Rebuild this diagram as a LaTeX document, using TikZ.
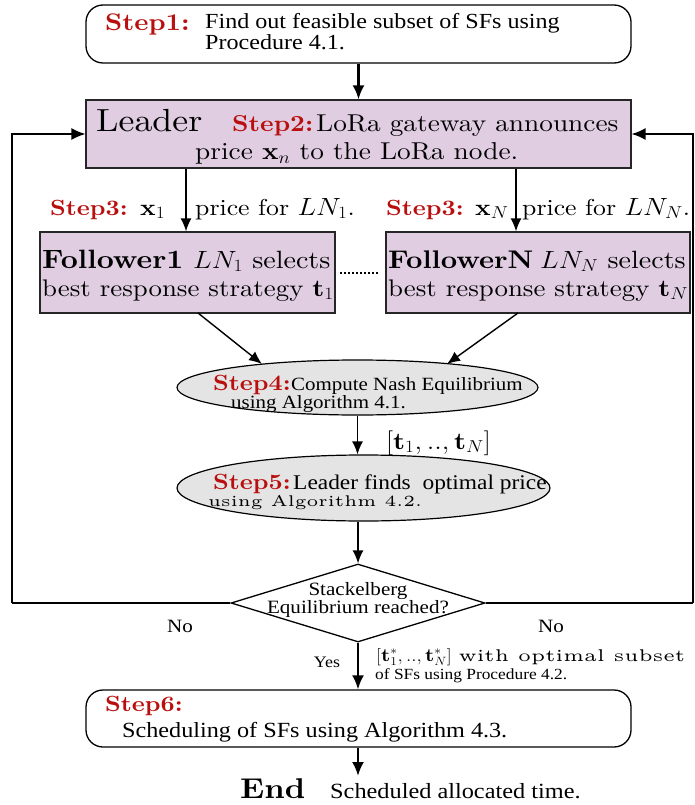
\documentclass[tikz,border=0pt]{standalone}
\usepackage{amsmath}
\usepackage{graphicx}
\usepackage{fontspec}
\setmainfont{lmroman10}[Extension=.otf, UprightFont=*-regular, BoldFont=*-bold, ItalicFont=*-italic, BoldItalicFont=*-bolditalic]
\newfontfamily\lmfive{lmroman5}[Extension=.otf, UprightFont=*-regular, BoldFont=*-bold]
\newfontfamily\tms{Liberation Serif}
\usetikzlibrary{shapes.geometric,arrows.meta}
\definecolor{stepred}{RGB}{185,15,15}
\definecolor{lpurple}{RGB}{224,205,226}
\definecolor{lgray}{RGB}{228,228,228}
\newcommand\fsz[1]{\fontsize{#1}{#1}\selectfont}
\newcommand\fszb[2]{\fontsize{#1}{#2}\selectfont}
\newcommand\sx[1]{\scalebox{1.12}[1]{#1}}
\newcommand\ttxt[2]{\sx{\fsz{#1}\tms #2}}
\newcommand\ctxt[2]{\sx{\fsz{#1}#2}}
\newcommand\stxt[2]{\sx{\fsz{#1}\color{stepred}\bfseries #2}}
\begin{document}
\begin{tikzpicture}[x=1pt,y=-1pt,
  rbox/.style={draw, line width=1.3pt, rounded corners=17pt, inner sep=0pt},
  pbox/.style={draw=black!85, line width=1.3pt, fill=lpurple, inner sep=0pt},
  ebox/.style={ellipse, draw, line width=1.2pt, fill=lgray, inner sep=0pt},
  dbox/.style={diamond, draw, line width=1.3pt, inner sep=0pt},
  txt/.style={inner sep=0pt, anchor=base west},
  ctr/.style={inner sep=0pt, anchor=base},
  barr/.style={-{Latex[length=14pt,width=12pt]}, line width=2.3pt},
  tarr/.style={-{Latex[length=13pt,width=11pt]}, line width=1.4pt}]
\useasboundingbox (0,0) rectangle (694,805);

% Step 1
\node[rbox, minimum width=545pt, minimum height=58pt] (s1) at (358.5,34) {};
\node[txt] (s1a) at (105,31) {\stxt{24}{Step1:}};
\node[txt] (s1b) at (205,29) {\sx{\fszb{21.5}{18}\tms\begin{tabular}[t]{@{}l@{}}Find out feasible subset of SFs using\\Procedure 4.1.\end{tabular}}};

% Leader
\node[pbox, minimum width=545pt, minimum height=68pt] (ld) at (358.5,134) {};
\node[txt] (lda) at (96,132) {\ctxt{32}{Leader}};
\node[txt] (ldb) at (232,132) {\stxt{23}{Step2:}};
\node[txt] (ldc) at (316,132) {\ctxt{24.4}{LoRa gateway announces}};
\node[txt] (ldd) at (195,160) {\ctxt{24.4}{price $\mathbf{x}_n$ to the LoRa node.}};

% Step 3 labels
\node[txt] (l3a) at (50,215) {\stxt{22}{Step3:}};
\node[txt] (l3b) at (140,215) {\ctxt{23}{$\mathbf{x}_1$}};
\node[txt] (l3c) at (195,215) {\ctxt{23}{price for $LN_1$.}};
\node[txt] (l3d) at (386,215) {\stxt{22}{Step3:}};
\node[txt] (l3e) at (475,215) {\ctxt{23}{$\mathbf{x}_N$}};
\node[txt] (l3f) at (522,215) {\ctxt{23}{price for $LN_N$.}};

% Followers
\node[pbox, minimum width=295pt, minimum height=81pt] (f1) at (187.5,272.5) {};
\node[txt] (f1a) at (42,268) {\ctxt{26.5}{\bfseries Follower1}};
\node[txt] (f1b) at (193,268) {\ctxt{25}{$LN_1$ selects}};
\node[txt] (f1c) at (42,296) {\ctxt{24}{best response strategy $\mathbf{t}_1$}};
\node[pbox, minimum width=304pt, minimum height=81pt] (fN) at (538,272.5) {};
\node[txt] (fNa) at (388,268) {\ctxt{25.5}{\bfseries FollowerN}};
\node[txt] (fNb) at (540,268) {\ctxt{25}{$LN_N$ selects}};
\node[txt] (fNc) at (388,296) {\ctxt{24}{best response strategy $\mathbf{t}_N$}};
\coordinate (dt1) at (340,273);
\coordinate (dt2) at (379,273);
\draw[line width=1.3pt, dash pattern=on 2pt off 2pt] (dt1) -- (dt2);

% Step 4
\node[ebox, minimum width=361pt, minimum height=55pt] (e4) at (357.5,387.5) {};
\node[txt] (e4a) at (213,390) {\stxt{22}{Step4:}};
\node[txt] (e4b) at (291,390) {\ttxt{18.7}{Compute Nash Equilibrium}};
\node[txt] (e4c) at (231,408) {\ttxt{18.7}{using Algorithm 4.1.}};
\node[txt] (tl) at (386,449) {\ctxt{24}{$[\mathbf{t}_1, .., \mathbf{t}_N]$}};

% Step 5
\node[ebox, minimum width=373pt, minimum height=66pt] (e5) at (363.5,488) {};
\node[txt] (e5a) at (213,489) {\stxt{22}{Step5:}};
\node[txt] (e5b) at (293,489) {\ttxt{20.9}{Leader finds\ \ optimal price}};
\node[txt] (e5c) at (208,506) {\sx{\fsz{15.5}\lmfive using Algorithm 4.2.}};

% Decision
\node[dbox, minimum width=254pt, minimum height=78pt] (dia) at (358,603) {};
\node[ctr] (da) at (358,595) {\sx{\fszb{18.8}{18}\tms\begin{tabular}[t]{@{}c@{}}Stackelberg\\Equilibrium reached?\end{tabular}}};
\node[ctr] (no1) at (180,632) {\ttxt{18.8}{No}};
\node[ctr] (no2) at (551,632) {\ttxt{18.8}{No}};
\node[ctr] (yes) at (327,667) {\ttxt{16}{Yes}};
\node[txt] (ts) at (376,661) {\sx{\fsz{18.5}$[\mathbf{t}^*_1, .., \mathbf{t}^*_N]$ {\fsz{17}\lmfive with optimal subset}}};
\node[txt] (tsc) at (375,679) {\ttxt{15.5}{of SFs using Procedure 4.2.}};

% Step 6
\node[rbox, minimum width=545pt, minimum height=57pt] (s6) at (358.5,718.5) {};
\node[txt] (s6a) at (105,711) {\stxt{22}{Step6:}};
\node[txt] (s6b) at (122,737) {\ttxt{21.6}{Scheduling of SFs using Algorithm 4.3.}};

% End
\node[txt] (en) at (240,798) {\ctxt{28.6}{\bfseries End}};
\node[txt] (ent) at (330,798) {\ttxt{21.7}{Scheduled allocated time.}};
\coordinate (endtop) at (358,776);

% connectors
\draw[barr] (s1.south) -- (ld.north);
\coordinate (a1) at (186,0);
\coordinate (aN) at (516,0);
\draw[tarr] (ld.south -| a1) -- (f1.north -| a1);
\draw[tarr] (ld.south -| aN) -- (fN.north -| aN);
\coordinate (d1) at (198,313);
\coordinate (d1e) at (262,364);
\coordinate (dN) at (518,313);
\coordinate (dNe) at (447,364);
\draw[tarr] (d1) -- (d1e);
\draw[tarr] (dN) -- (dNe);
\draw[tarr] (e4.south) -- (e4.south |- e5.north);
\draw[tarr] (e5.south -| dia.north) -- (dia.north);
\draw[barr] (dia.south) -- (s6.north -| dia.south);
\draw[barr] (s6.south -| dia.south) -- (endtop);
\coordinate (fbl) at (12,603);
\coordinate (fbr) at (693,603);
\draw[line width=1.4pt] (dia.west) -- (fbl);
\draw[line width=1.4pt] (dia.east) -- (fbr);
\draw[barr, line width=1.4pt] (fbl) |- (ld.west);
\draw[barr, line width=1.4pt] (fbr) |- (ld.east);
\end{tikzpicture}
\end{document}
